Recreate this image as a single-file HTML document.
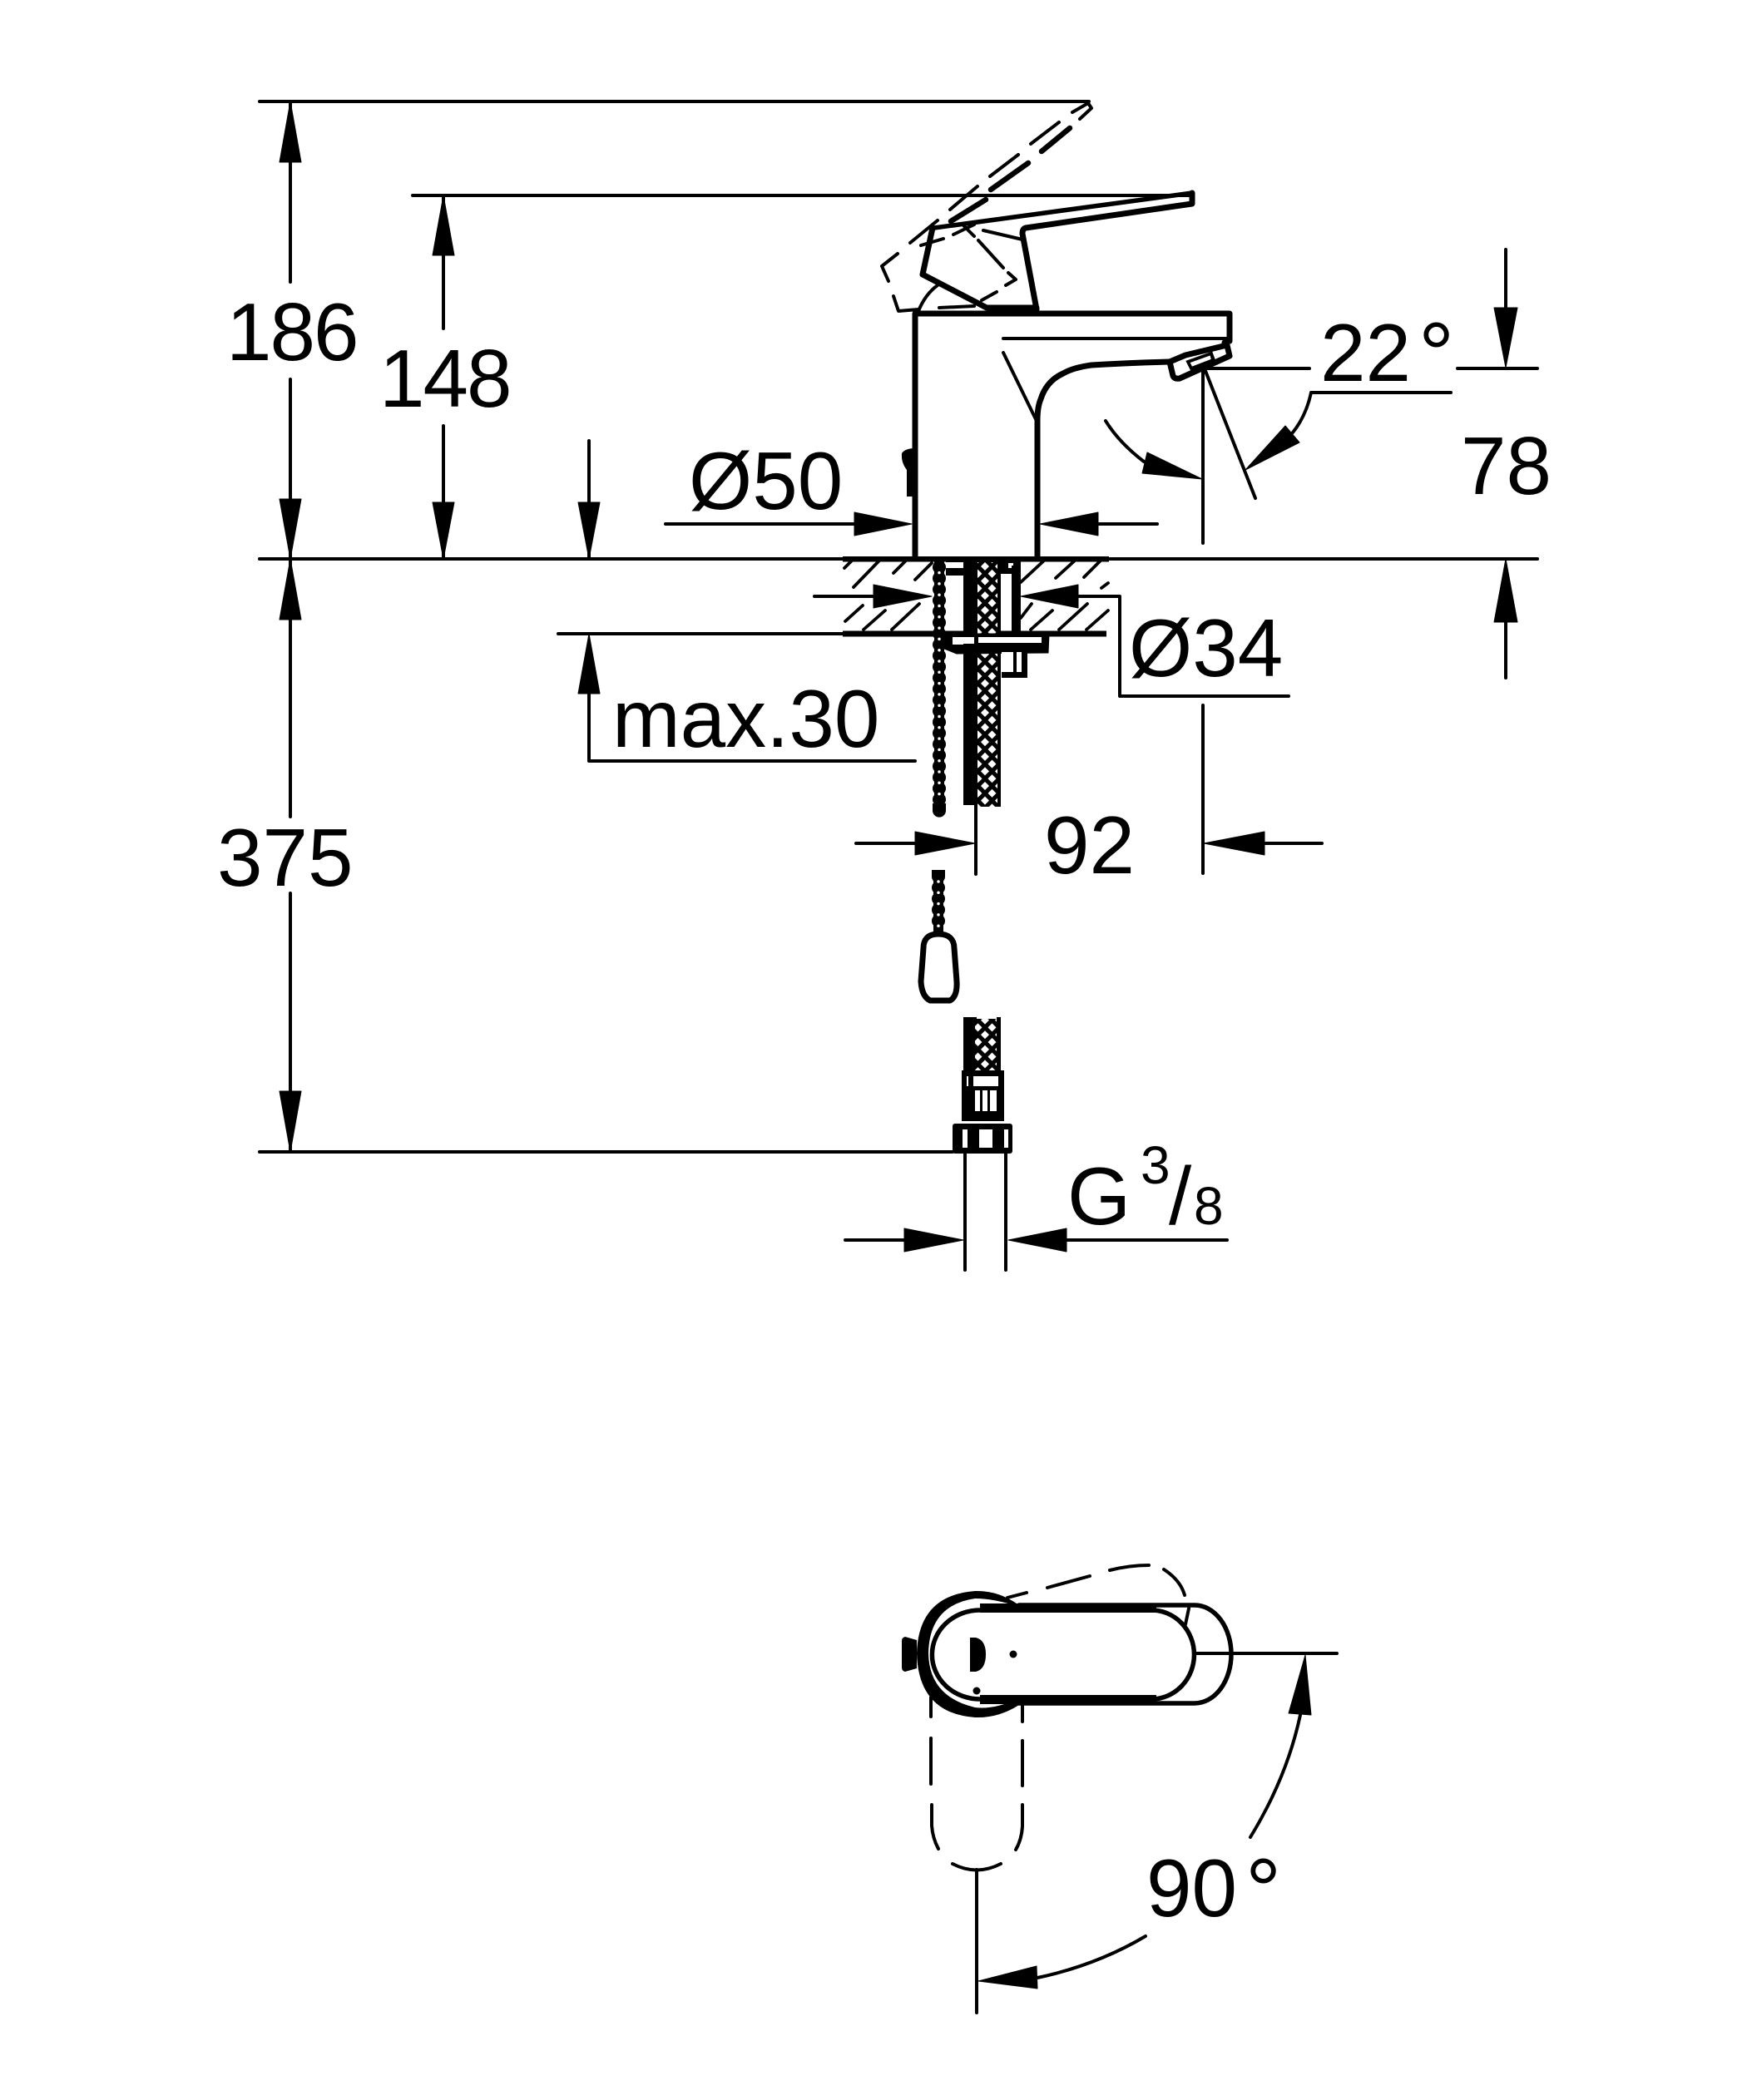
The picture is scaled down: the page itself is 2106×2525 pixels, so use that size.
<!DOCTYPE html>
<html><head><meta charset="utf-8"><style>
html,body{margin:0;padding:0;background:#fff}
svg{display:block}
text{font-family:"Liberation Sans",sans-serif;font-size:98px;fill:#000}
.t{fill:none;stroke:#000;stroke-width:4;stroke-linecap:round;stroke-linejoin:round}
.m{fill:none;stroke:#000;stroke-width:5.5;stroke-linecap:round;stroke-linejoin:round}
.b{fill:none;stroke:#000;stroke-width:7;stroke-linecap:round;stroke-linejoin:round}
.h{fill:none;stroke:#000;stroke-width:3.8;stroke-linecap:round}
.w{fill:#fff;stroke:none}
.k{fill:#000;stroke:none}
polygon.k{stroke:#000;stroke-width:1;stroke-linejoin:round}
.bead{fill:none;stroke:#000;stroke-width:16;stroke-linecap:round;stroke-dasharray:0 13.3}
.core{fill:none;stroke:#000;stroke-width:12}
.dot{fill:none;stroke:#fff;stroke-width:3.5;stroke-linecap:round;stroke-dasharray:0 13.3}
</style></head><body>
<svg width="2106" height="2525" viewBox="0 0 2106 2525" xmlns="http://www.w3.org/2000/svg">
<defs>
<pattern id="mesh" width="17" height="17.6" patternUnits="userSpaceOnUse" x="1184" y="681">
<rect width="17" height="17.6" fill="#000"/>
<path d="M0-5 5 0 0 5-5 0Z M17-5 22 0 17 5 12 0Z M0 12.6 5 17.6 0 22.6-5 17.6Z M17 12.6 22 17.6 17 22.6 12 17.6Z M8.5 3.8 13.5 8.8 8.5 13.8 3.5 8.8Z" fill="#fff"/>
</pattern>
</defs>
<rect width="2106" height="2525" fill="#fff"/>

<!-- extension lines -->
<path class="t" d="M312 122H1309M496 235H1433M312 672H1848M671 762H1013M312 1385H1145M1100 915H708V834M1574 443H1450M1752 443H1848"/>
<!-- handle -->
<path class="m" d="M1123 274L1433 232"/>
<path class="b" d="M1433 232V245L1233 274Q1229 275 1229 281L1246 372M1121 274L1109 330L1186 370H1246"/>
<path class="t" d="M1182 277L1229 288M1104 374Q1112 354 1127 343M1129 370L1171 368"/>
<!-- dashed lever -->
<path class="t" d="M1289 135L1308 124L1312 130L1298 143M1239 173L1273 147M1190 212L1224 186M1142 252L1175 224M1094 292L1127 265M1107 295L1134 287M1146 282L1171 270M1079 305L1060 320L1068 338M1159 272L1171 284M1176 289L1206 322M1212 328L1221 336L1209 343M1198 351L1180 361M1074 356L1080 374L1104 372"/>
<path fill="none" stroke="#000" stroke-width="6.5" stroke-linecap="round" d="M1252 182L1286 154M1191 228L1236 196M1143 266L1185 240"/>
<!-- body -->
<path class="b" d="M1100 672V377H1478V410L1472 412M1247 672V506Q1247 489 1251 480Q1258 458 1278 449Q1290 442 1312 439Q1360 436 1406 435"/>
<path class="t" d="M1206 407H1478M1206 424L1246 506"/>
<path class="k" d="M1084 545Q1088 539 1100 539V597H1090V565Q1083 556 1084 545Z"/>
<!-- aerator -->
<path class="b" d="M1406 435L1410 452Q1412 456 1418 455L1478 428L1475 415L1425 427Z"/>
<path class="h" d="M1428 435L1432 443L1458 433L1456 425ZM1456 425L1459 433"/>
<!-- angle lines -->
<path class="t" d="M1446 446V653M1449 446L1509 599M1329 506Q1345 532 1375 555M1576 472H1744M1576 472Q1570 500 1554 520"/>
<polygon class="k" points="1445,576 1379,544 1373,569"/>
<polygon class="k" points="1497,565 1545,512 1562,532"/>

<!-- floor -->
<rect class="k" x="1013" y="669" width="320" height="6.5"/>
<rect class="k" x="1013" y="758.5" width="317" height="7"/>
<path class="h" d="M1015 683L1024 674M1026 706L1057 674M1074 689L1089 674M1100 697L1120 677M1016 747L1037 728M1038 757L1064 734M1072 757L1105 726M1227 700L1255 674M1269 695L1292 674M1303 694L1323 674M1324 707L1332 701M1227 743L1240 726M1239 757L1265 734M1273 757L1307 726M1306 757L1332 734"/>
<!-- wall block -->
<rect class="k" x="1137" y="672" width="90" height="20"/>
<rect class="w" x="1131" y="676" width="40" height="7"/>
<rect class="w" x="1212" y="677" width="6" height="6"/>
<rect class="w" x="1137" y="692" width="21" height="66"/>
<rect class="w" x="1203" y="690" width="13" height="68"/>
<rect class="k" x="1216" y="680" width="11" height="82"/>
<!-- chain -->
<path class="core" d="M1129 674V975"/>
<path class="bead" d="M1129 682V975"/>
<path class="dot" d="M1129 688.6V972"/>
<rect class="k" x="1121" y="966" width="16" height="9"/>
<!-- hose -->
<rect class="k" x="1158" y="672" width="17" height="296"/>
<rect fill="url(#mesh)" x="1175" y="676" width="28" height="294"/>
<rect class="k" x="1199" y="783" width="4" height="185"/>
<rect class="k" x="1199" y="676" width="4" height="90"/>
<!-- flange -->
<polygon class="k" points="1135,762 1135,780 1150,786 1260,785 1261,762"/>
<rect class="w" x="1145" y="766" width="26" height="8"/>
<rect class="w" x="1176" y="766" width="76" height="7"/>
<rect class="w" x="1145" y="773" width="13" height="2"/>
<rect class="k" x="1204" y="783" width="31" height="32"/>
<rect class="w" x="1204" y="784" width="14" height="24"/>
<rect class="w" x="1222" y="784" width="6" height="24"/>
<rect class="k" x="1158" y="780" width="17" height="8"/>

<!-- dims left -->
<path class="t" d="M349 122V339M349 456V672M533 235V395M533 512V672M708 530V672M349 672V982M349 1074V1385"/>
<polygon class="k" points="349,122 336,195 362,195"/>
<polygon class="k" points="349,672 336,600 362,600"/>
<polygon class="k" points="533,235 520,307 546,307"/>
<polygon class="k" points="533,672 520,604 546,604"/>
<polygon class="k" points="708,672 695,604 721,604"/>
<polygon class="k" points="708,762 695,834 721,834"/>
<polygon class="k" points="349,672 336,745 362,745"/>
<polygon class="k" points="349,1385 336,1312 362,1312"/>

<!-- d50 -->
<path class="t" d="M800 630H1030M1320 630H1391"/>
<polygon class="k" points="1096,630 1027,616 1027,644"/>
<polygon class="k" points="1250,630 1320,616 1320,644"/>
<!-- d34 -->
<path class="t" d="M979 717H1050M1296 717H1346V837H1549"/>
<polygon class="k" points="1120,717 1050,703 1050,731"/>
<polygon class="k" points="1227,717 1296,703 1296,731"/>
<!-- right 78 -->
<path class="t" d="M1810 300V370M1810 748V815"/>
<polygon class="k" points="1810,442 1796,370 1824,370"/>
<polygon class="k" points="1810,672 1796,748 1824,748"/>
<!-- 92 -->
<path class="t" d="M1173 968V1051M1446 848V1050M1029 1014H1100M1520 1014H1589"/>
<polygon class="k" points="1172,1014 1100,1000 1100,1028"/>
<polygon class="k" points="1447,1014 1520,1000 1520,1028"/>

<!-- chain lower and ball -->
<path class="core" d="M1128 1046V1120"/>
<path class="bead" d="M1128 1054V1112"/>
<path class="dot" d="M1128 1060V1115"/>
<rect class="k" x="1120" y="1046" width="16" height="8"/>
<path class="b" d="M1128 1123C1115 1123 1110 1130 1110 1140L1107 1180Q1108 1198 1118 1203H1142Q1151 1198 1150 1180L1147 1140C1147 1130 1141 1123 1128 1123Z"/>

<!-- lower hose -->
<rect class="k" x="1158" y="1223" width="16" height="66"/>
<rect fill="url(#mesh)" x="1172" y="1225" width="28" height="62"/>
<rect class="k" x="1198" y="1223" width="5" height="66"/>
<rect class="k" x="1156" y="1287" width="51" height="61"/>
<rect class="w" x="1170" y="1294" width="30" height="12"/>
<rect class="w" x="1162" y="1294" width="2" height="12"/>
<rect class="w" x="1172" y="1311" width="6" height="25"/>
<rect class="w" x="1181" y="1311" width="6" height="25"/>
<rect class="w" x="1190" y="1311" width="8" height="25"/>
<rect class="k" x="1145" y="1351" width="72" height="36" rx="3"/>
<rect class="w" x="1157" y="1358" width="6" height="22"/>
<rect class="w" x="1177" y="1358" width="16" height="22"/>
<rect class="w" x="1207" y="1358" width="5" height="22"/>
<path class="t" d="M1160 1387V1527M1209 1387V1527M1016 1491H1087M1282 1491H1475"/>
<polygon class="k" points="1158,1491 1087,1477 1087,1505"/>
<polygon class="k" points="1212,1491 1282,1477 1282,1505"/>

<!-- bottom view -->
<path class="k" d="M1225 1930Q1200 1912 1172 1913Q1104 1918 1102 1988Q1104 2060 1172 2065Q1200 2066 1225 2050Z"/>
<path class="w" d="M1225 1932Q1195 1922 1172 1922Q1117 1930 1116 1988Q1117 2040 1172 2053Q1195 2056 1225 2042Z"/>
<path class="m" d="M1436 1930A44 59 0 0 1 1436 2048H1225M1225 1930H1436"/>
<path fill="#fff" stroke="#000" stroke-width="5.5" d="M1178 1936H1384A50 52 0 0 1 1384 2043H1178A56 52 0 0 1 1178 1936Z"/>
<rect class="k" x="1178" y="1928" width="212" height="11"/>
<rect class="k" x="1178" y="2038" width="212" height="11"/>
<path class="t" d="M1436 1988H1607M1425 1953L1429 1934"/>
<path class="k" d="M1088 1968L1102 1972V2006L1088 2010Q1084 2009 1084 2005V1973Q1084 1969 1088 1968Z"/>
<path class="k" d="M1166 1969H1173Q1185 1972 1185 1989Q1185 2007 1173 2010H1166Z"/>
<circle class="k" cx="1218" cy="1989" r="4.5"/>
<circle class="k" cx="1174" cy="2033" r="4.5"/>
<path class="t" d="M1211 1921L1234 1915M1259 1909L1310 1895M1334 1888Q1358 1882 1381 1882M1399 1887Q1419 1900 1424 1918M1119 2041V2064M1119 2090V2145M1120 2170V2195Q1121 2210 1128 2223M1229 2051V2070M1229 2093V2147M1229 2170V2196Q1228 2212 1221 2224M1145 2241Q1174 2256 1203 2241M1174 2248V2420M1247 2378Q1318 2363 1377 2328M1563 2062Q1547 2137 1503 2209"/>
<polygon class="k" points="1176,2382 1246,2364 1247,2391"/>
<polygon class="k" points="1569,1990 1549,2060 1576,2062"/>

<!-- text -->
<text x="272" y="433" style="letter-spacing:-2px">186</text>
<text x="456" y="489" style="letter-spacing:-2px">148</text>
<text x="828" y="612">Ø50</text>
<text x="1587" y="458">22</text>
<text x="1705" y="463" style="font-size:108px">°</text>
<text x="1756" y="594">78</text>
<text x="1357" y="813">Ø34</text>
<text x="736" y="898">max.30</text>
<text x="1255" y="1050">92</text>
<text x="261" y="1065">375</text>
<text x="1283" y="1472">G</text>
<text x="1371" y="1423" style="font-size:64px">3</text>
<text x="1405" y="1472">/</text>
<text x="1435" y="1472" style="font-size:64px">8</text>
<text x="1378" y="2304">90</text>
<text x="1497" y="2310" style="font-size:108px">°</text>
</svg>
</body></html>
